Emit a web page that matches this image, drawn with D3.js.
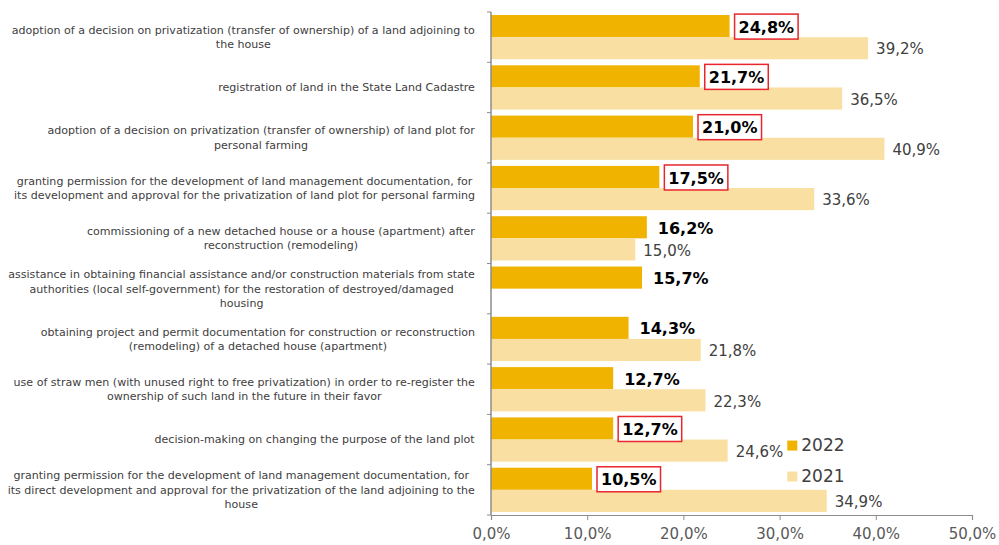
<!DOCTYPE html>
<html>
<head>
<meta charset="utf-8">
<script src="https://cdn.jsdelivr.net/npm/d3@7/dist/d3.min.js"></script>
<style>
  html, body { margin: 0; padding: 0; background: #fff; }
  svg { display: block; }
</style>
</head>
<body>
<svg id="chart" width="999" height="545"></svg>
<script>
// Category labels, already broken into the lines they are shown on
const categories = [
  ["adoption of a decision on privatization (transfer of ownership) of a land adjoining to", "the house"],
  ["registration of land in the State Land Cadastre"],
  ["adoption of a decision on privatization (transfer of ownership) of land plot for", "personal farming"],
  ["granting permission for the development of land management documentation, for", "its development and approval for the privatization of land plot for personal farming"],
  ["commissioning of a new detached house or a house (apartment) after", "reconstruction (remodeling)"],
  ["assistance in obtaining financial assistance and/or construction materials from state", "authorities (local self-government) for the restoration of destroyed/damaged", "housing"],
  ["obtaining project and permit documentation for construction or reconstruction", "(remodeling) of a detached house (apartment)"],
  ["use of straw men (with unused right to free privatization) in order to re-register the", "ownership of such land in the future in their favor"],
  ["decision-making on changing the purpose of the land plot"],
  ["granting permission for the development of land management documentation, for", "its direct development and approval for the privatization of the land adjoining to the", "house"]
];

const values2022 = [24.8, 21.7, 21.0, 17.5, 16.2, 15.7, 14.3, 12.7, 12.7, 10.5];
const values2021 = [39.2, 36.5, 40.9, 33.6, 15.0, null, 21.8, 22.3, 24.6, 34.9];
// 2022 values highlighted with a red frame
const highlighted = [true, true, true, true, false, false, false, false, true, true];

const seriesNames = ["2022", "2021"];
const xTicks = [0, 10, 20, 30, 40, 50];

const colors = { "2022": "#EFB300", "2021": "#F9E0A2" };
const fmt = v => d3.format(".1f")(v).replace(".", ",") + "%";

const svg = d3.select("#chart");
const margin = { top: 12, right: 27, bottom: 30, left: 491 };
const W = 999, H = 545;
const plotW = W - margin.left - margin.right;
const plotH = H - margin.top - margin.bottom;

const g = svg.append("g").attr("transform", `translate(${margin.left},${margin.top})`);

const x = d3.scaleLinear().domain([0, 50]).range([0, plotW]);
const y = d3.scaleBand().domain(d3.range(categories.length)).range([0, plotH])
  .paddingInner(0.12).paddingOuter(0.06);
const ySub = d3.scaleBand().domain(seriesNames).range([0, y.bandwidth()]);

const rows = categories.map((c, i) => ({
  i, lines: c, v2022: values2022[i], v2021: values2021[i], hl: highlighted[i]
}));

const fontFamily = "'DejaVu Sans', Verdana, sans-serif";

// bars
rows.forEach(r => {
  seriesNames.forEach(s => {
    const v = s === "2022" ? r.v2022 : r.v2021;
    if (v == null) return;
    g.append("rect")
      .attr("x", x(0))
      .attr("y", y(r.i) + ySub(s))
      .attr("width", x(v) - x(0))
      .attr("height", ySub.bandwidth())
      .attr("fill", colors[s]);
  });
});

// left axis: line with ticks at category boundaries
const boundaries = d3.range(categories.length + 1).map(i => i * plotH / categories.length);
g.append("line").attr("x1", 0).attr("x2", 0).attr("y1", 0).attr("y2", plotH)
  .attr("stroke", "#8c8c8c").attr("stroke-width", 1.5);
g.selectAll(".ytick").data(boundaries).join("line")
  .attr("x1", -4).attr("x2", 0).attr("y1", d => d).attr("y2", d => d)
  .attr("stroke", "#8c8c8c").attr("stroke-width", 1);

// bottom axis
const xAxis = d3.axisBottom(x).tickValues(xTicks).tickSize(5).tickFormat(fmt);
const xg = g.append("g").attr("transform", `translate(0,${plotH})`).call(xAxis);
xg.select(".domain").attr("stroke", "#8c8c8c").attr("stroke-width", 1.2);
xg.selectAll(".tick line").attr("stroke", "#8c8c8c");
xg.selectAll(".tick text").attr("fill", "#595959")
  .style("font-family", fontFamily).style("font-size", "15px").attr("dy", "1.05em");

// category labels
rows.forEach(r => {
  const cy = y(r.i) + y.bandwidth() / 2;
  const lh = 14.5;
  const n = r.lines.length;
  const t = g.append("text")
    .attr("text-anchor", "middle")
    .attr("fill", "#404040")
    .style("font-family", fontFamily)
    .style("font-size", "11.05px");
  r.lines.forEach((ln, k) => {
    t.append("tspan").attr("x", 0).attr("y", cy + (k - (n - 1) / 2) * lh).attr("dy", "0.35em").text(ln);
  });
  // right-align the block while centring lines within it
  const bb = t.node().getBBox();
  t.attr("transform", `translate(${-16 - bb.width / 2},0)`);
});

// value labels
rows.forEach(r => {
  const y22 = y(r.i) + ySub("2022") + ySub.bandwidth() / 2;
  const t = g.append("text")
    .attr("x", x(r.v2022) + (r.hl ? 9 : 11))
    .attr("y", y22 + 1)
    .attr("dy", "0.35em")
    .attr("fill", "#000")
    .style("font-family", fontFamily)
    .style("font-weight", "bold")
    .style("font-size", "16px")
    .text(fmt(r.v2022));
  if (r.hl) {
    const bb = t.node().getBBox();
    g.insert("rect", () => t.node())
      .attr("x", bb.x - 4).attr("y", y22 - 12)
      .attr("width", bb.width + 8).attr("height", 25)
      .attr("fill", "#fff").attr("stroke", "#E8262D").attr("stroke-width", 1.5);
  }
  if (r.v2021 != null) {
    const y21 = y(r.i) + ySub("2021") + ySub.bandwidth() / 2;
    g.append("text")
      .attr("x", x(r.v2021) + 8)
      .attr("y", y21 + 1)
      .attr("dy", "0.35em")
      .attr("fill", "#404040")
      .style("font-family", fontFamily)
      .style("font-size", "15px")
      .text(fmt(r.v2021));
  }
});

// legend
const legend = g.append("g").attr("transform", `translate(${x(30.8)},${y(8) + ySub("2021") + 1})`);
seriesNames.forEach((s, k) => {
  const row = legend.append("g").attr("transform", `translate(0,${k * 31})`);
  row.append("rect").attr("x", 0).attr("y", 0).attr("width", 10).attr("height", 10).attr("fill", colors[s]);
  row.append("text").attr("x", 14).attr("y", 4).attr("dy", "0.35em")
    .attr("fill", "#404040")
    .style("font-family", fontFamily).style("font-size", "17px").text(s);
});
</script>
</body>
</html>
